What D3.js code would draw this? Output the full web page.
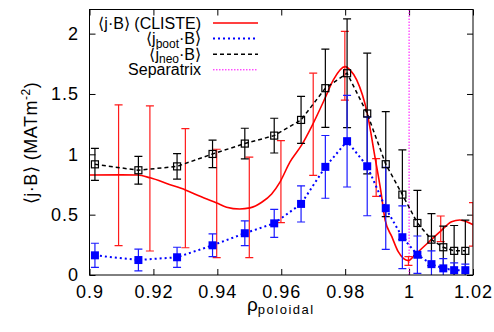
<!DOCTYPE html>
<html>
<head>
<meta charset="utf-8">
<script src="https://cdn.jsdelivr.net/npm/d3@7"></script>
<style>
  html, body { margin: 0; padding: 0; background: #fff; }
  svg { display: block; font-family: "Liberation Sans", Arial, Helvetica, sans-serif; }
</style>
</head>
<body>
<svg id="chart" width="494" height="332"></svg>
<script>
// ---- data ----
const xTicks = [0.9, 0.92, 0.94, 0.96, 0.98, 1.0, 1.02];
const xTickLabels = ["0.9", "0.92", "0.94", "0.96", "0.98", "1", "1.02"];
const yTicks = [0, 0.5, 1, 1.5, 2];
const yTickLabels = ["0", "0.5", "1", "1.5", "2"];

// CLISTE <j.B> curve
const clisteX = [0.9000, 0.9100, 0.9150, 0.9190, 0.9250, 0.9300, 0.9346, 0.9398, 0.9429, 0.9470,
                 0.9502, 0.9539, 0.9570, 0.9596, 0.9627, 0.9664, 0.9695, 0.9737, 0.9763, 0.9800,
                 0.9815, 0.9836, 0.9869, 0.9893, 0.9911, 0.9925, 0.9946, 0.9966, 0.9982, 0.9998,
                 1.0018, 1.0055, 1.0097, 1.0133, 1.0159, 1.0180, 1.0201];
const clisteY = [0.829, 0.830, 0.828, 0.805, 0.750, 0.705, 0.652, 0.596, 0.562, 0.547,
                 0.556, 0.603, 0.672, 0.770, 0.935, 1.078, 1.230, 1.465, 1.617, 1.727,
                 1.700, 1.617, 1.341, 0.981, 0.705, 0.456, 0.318, 0.193, 0.138, 0.119,
                 0.166, 0.257, 0.359, 0.442, 0.456, 0.442, 0.415];
// CLISTE error bars
const clisteErrX  = [0.9091, 0.9189, 0.9300, 0.9398, 0.9500, 0.9599, 0.9700, 0.9799, 0.9897, 0.9998, 1.0099, 1.0200];
const clisteErrLo = [0.243, 0.199, 0.226, 0.144, 0.144, 0.434, 0.826, 1.449, 0.652, 0.080, 0.276, 0.240];
const clisteErrHi = [1.410, 1.401, 1.213, 1.042, 0.976, 1.114, 1.672, 2.018, 0.965, 0.152, 0.489, 0.600];

// kinetic profile points
const rhoPts = [0.9017, 0.9153, 0.9274, 0.9385, 0.9486, 0.9578, 0.9662, 0.9738, 0.9806,
                0.9869, 0.9927, 0.9979, 1.0026, 1.0070, 1.0107, 1.0141, 1.0176];
const bootY   = [0.163, 0.124, 0.147, 0.246, 0.346, 0.428, 0.589, 0.896, 1.109,
                 0.901, 0.553, 0.313, 0.168, 0.090, 0.055, 0.040, 0.040];
const bootErr = [0.100, 0.090, 0.083, 0.094, 0.102, 0.116, 0.150, 0.260, 0.380,
                 0.410, 0.340, 0.260, 0.155, 0.110, 0.080, 0.060, 0.050];
const neoY    = [0.917, 0.868, 0.900, 1.003, 1.089, 1.155, 1.285, 1.548, 1.672,
                 1.338, 0.918, 0.666, 0.431, 0.293, 0.230, 0.200, 0.200];
const neoErr  = [0.133, 0.115, 0.105, 0.114, 0.127, 0.144, 0.195, 0.324, 0.450,
                 0.500, 0.435, 0.370, 0.270, 0.215, 0.175, 0.210, 0.255];

const separatrixX = 1.0;

// ---- layout ----
const svg = d3.select("#chart");
const L = 89.5, R = 473, T = 9.5, B = 275;
const x = d3.scaleLinear().domain([0.9, 1.02]).range([L, R]);
const y = d3.scaleLinear().domain([0, 2.2]).range([B, T]);
const FS = 18;

svg.append("defs").append("clipPath").attr("id", "clip")
  .append("rect").attr("x", L).attr("y", T).attr("width", R - L).attr("height", B - T);

// axes (ticks inward)
const axB = svg.append("g").attr("transform", `translate(0,${B})`)
  .call(d3.axisBottom(x).tickValues(xTicks).tickFormat((d, i) => xTickLabels[i])
        .tickSizeInner(-6).tickSizeOuter(0).tickPadding(10.5));
const axT = svg.append("g").attr("transform", `translate(0,${T})`)
  .call(d3.axisTop(x).tickValues(xTicks).tickFormat("").tickSizeInner(-6).tickSizeOuter(0));
const axLft = svg.append("g").attr("transform", `translate(${L},0)`)
  .call(d3.axisLeft(y).tickValues(yTicks).tickFormat((d, i) => yTickLabels[i])
        .tickSizeInner(-6).tickSizeOuter(0).tickPadding(10.5));
const axRt = svg.append("g").attr("transform", `translate(${R},0)`)
  .call(d3.axisRight(y).tickValues(yTicks).tickFormat("").tickSizeInner(-6).tickSizeOuter(0));
[axB, axT, axLft, axRt].forEach(g => {
  g.select(".domain").remove();
  g.selectAll("line").attr("stroke", "#000").attr("stroke-width", 1);
  g.selectAll("text").attr("font-size", FS).attr("fill", "#000").attr("letter-spacing", 1)
    .attr("font-family", "'Liberation Sans', Arial, sans-serif");
});

const plot = svg.append("g").attr("clip-path", "url(#clip)");

// separatrix
plot.append("line")
  .attr("x1", x(separatrixX)).attr("x2", x(separatrixX))
  .attr("y1", T).attr("y2", B)
  .attr("stroke", "#ff00ff").attr("stroke-width", 1).attr("stroke-dasharray", "1.5,1.5");

// error bar helper
function errBars(g, xs, lo, hi, color, cap, sw) {
  xs.forEach((xv, i) => {
    const xp = x(xv), y1 = y(lo[i]), y2 = y(hi[i]);
    g.append("line").attr("x1", xp).attr("x2", xp).attr("y1", y1).attr("y2", y2)
      .attr("stroke", color).attr("stroke-width", sw);
    [y1, y2].forEach(yy => g.append("line")
      .attr("x1", xp - cap).attr("x2", xp + cap).attr("y1", yy).attr("y2", yy)
      .attr("stroke", color).attr("stroke-width", sw));
  });
}

// CLISTE
errBars(plot, clisteErrX, clisteErrLo, clisteErrHi, "#ff1a1a", 4, 1.2);
const clisteData = clisteX.map((v, i) => [v, clisteY[i]]);
plot.append("path").datum(clisteData)
  .attr("d", d3.line().x(d => x(d[0])).y(d => y(d[1])).curve(d3.curveMonotoneX))
  .attr("fill", "none").attr("stroke", "#ff0000").attr("stroke-width", 1.6);

// neo (black dashed, open squares)
errBars(plot, rhoPts, neoY.map((v, i) => v - neoErr[i]), neoY.map((v, i) => v + neoErr[i]), "#000", 4, 1.2);
plot.append("path").datum(rhoPts.map((v, i) => [v, neoY[i]]))
  .attr("d", d3.line().x(d => x(d[0])).y(d => y(d[1])))
  .attr("fill", "none").attr("stroke", "#000").attr("stroke-width", 1.5).attr("stroke-dasharray", "4,3");

// boot (blue dotted, filled squares)
errBars(plot, rhoPts, bootY.map((v, i) => v - bootErr[i]), bootY.map((v, i) => v + bootErr[i]), "#1a1aff", 4, 1.2);
plot.append("path").datum(rhoPts.map((v, i) => [v, bootY[i]]))
  .attr("d", d3.line().x(d => x(d[0])).y(d => y(d[1])))
  .attr("fill", "none").attr("stroke", "#0000ff").attr("stroke-width", 2).attr("stroke-dasharray", "2,3");
plot.selectAll("rect.boot").data(rhoPts).enter().append("rect").attr("class", "boot")
  .attr("x", d => x(d) - 4).attr("y", (d, i) => y(bootY[i]) - 4)
  .attr("width", 8).attr("height", 8).attr("fill", "#0000ff");

plot.selectAll("rect.neo").data(rhoPts).enter().append("rect").attr("class", "neo")
  .attr("x", d => x(d) - 3.5).attr("y", (d, i) => y(neoY[i]) - 3.5)
  .attr("width", 7).attr("height", 7).attr("fill", "none").attr("stroke", "#000").attr("stroke-width", 1.2);

// frame
svg.append("rect").attr("x", L).attr("y", T).attr("width", R - L).attr("height", B - T)
  .attr("fill", "none").attr("stroke", "#000").attr("stroke-width", 1);

// legend
const LFS = 16;
const legend = [
  { parts: [["⟨j·B⟩ (CLISTE)", null]], color: "#ff0000", dash: null, w: 1.6 },
  { parts: [["⟨j", null], ["boot", "sub"], ["·B⟩", null]], color: "#0000ff", dash: "2,3", w: 2 },
  { parts: [["⟨j", null], ["neo", "sub"], ["·B⟩", null]], color: "#000", dash: "4,3", w: 1.5 },
  { parts: [["Separatrix", null]], color: "#ff00ff", dash: "1.5,1.5", w: 1 }
];
const lg = svg.append("g");
legend.forEach((d, i) => {
  const ly = 23 + i * 15.6;
  const t = lg.append("text").attr("x", 201).attr("y", ly + 5.5)
    .attr("text-anchor", "end").attr("font-size", LFS).attr("fill", "#000");
  d.parts.forEach(p => {
    if (p[1] === "sub") t.append("tspan").attr("font-size", 12).attr("dy", 3.5).text(p[0]);
    else if (t.selectAll("tspan").size() > 0) t.append("tspan").attr("font-size", LFS).attr("dy", -3.5).text(p[0]);
    else t.append("tspan").text(p[0]);
  });
  lg.append("line").attr("x1", 213).attr("x2", 258).attr("y1", ly).attr("y2", ly)
    .attr("stroke", d.color).attr("stroke-width", d.w).attr("stroke-dasharray", d.dash);
});

// axis titles
const xt = svg.append("text").attr("x", 247).attr("y", 311).attr("font-size", 19).attr("fill", "#000");
xt.append("tspan").text("ρ");
xt.append("tspan").attr("font-size", 13).attr("letter-spacing", 1.5).attr("dy", 3).text("poloidal");

const yt = svg.append("text").attr("transform", "translate(37,143) rotate(-90)")
  .attr("text-anchor", "middle").attr("font-size", 18).attr("letter-spacing", 0.5).attr("fill", "#000");
yt.append("tspan").text("⟨j·B⟩ (MATm");
yt.append("tspan").attr("font-size", 12).attr("dy", -7).text("-2");
yt.append("tspan").attr("dy", 7).text(")");
</script>
</body>
</html>
